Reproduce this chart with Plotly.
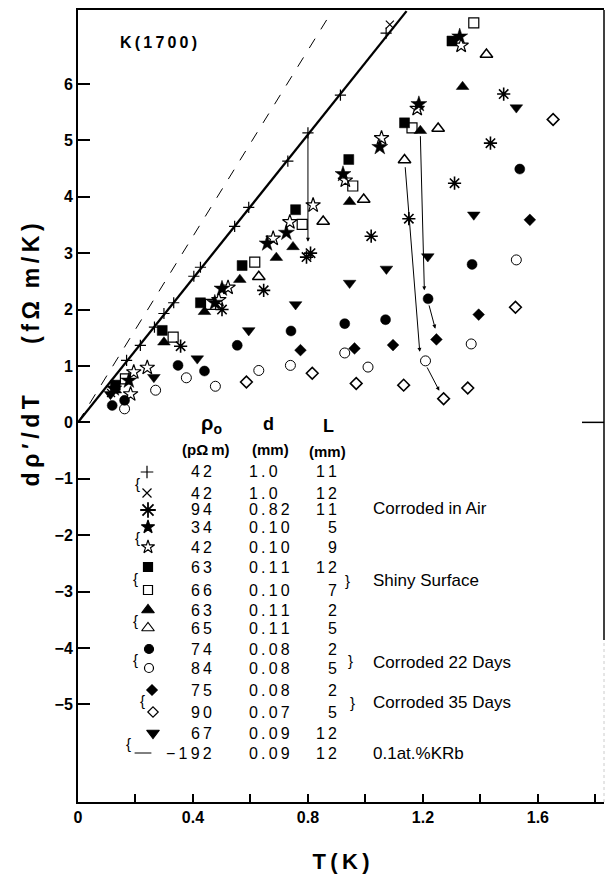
import plotly.graph_objects as go

# ---------------- data (T in K, d rho/dT in fOhm m/K) ----------------
plus_T = [0.169, 0.217, 0.266, 0.299, 0.333, 0.403, 0.426, 0.545, 0.594, 0.730, 0.800, 0.913, 1.072]
plus_v = [1.10, 1.365, 1.69, 1.93, 2.12, 2.59, 2.75, 3.475, 3.81, 4.63, 5.13, 5.80, 6.90]
cross_T = [0.115, 1.085]
cross_v = [0.52, 7.05]
ast_T = [0.357, 0.501, 0.646, 0.795, 0.809, 1.020, 1.151, 1.310, 1.435, 1.481]
ast_v = [1.35, 2.00, 2.34, 2.93, 3.00, 3.30, 3.61, 4.24, 4.95, 5.82]
starf_T = [0.125, 0.177, 0.476, 0.501, 0.658, 0.725, 0.922, 1.050, 1.186, 1.328]
starf_v = [0.60, 0.74, 2.12, 2.37, 3.17, 3.36, 4.40, 4.88, 5.64, 6.84]
staro_T = [0.183, 0.194, 0.241, 0.490, 0.522, 0.679, 0.737, 0.818, 0.930, 1.056, 1.180, 1.333]
staro_v = [0.50, 0.89, 0.97, 2.17, 2.39, 3.26, 3.55, 3.85, 4.29, 5.04, 5.56, 6.68]
sqf_T = [0.130, 0.293, 0.426, 0.571, 0.757, 0.942, 1.136, 1.301]
sqf_v = [0.66, 1.63, 2.12, 2.78, 3.77, 4.66, 5.31, 6.76]
sqo_T = [0.165, 0.331, 0.461, 0.615, 0.780, 0.956, 1.162, 1.377]
sqo_v = [0.77, 1.51, 2.09, 2.84, 3.51, 4.19, 5.22, 7.08]
trif_T = [0.130, 0.299, 0.440, 0.563, 0.690, 0.748, 0.945, 1.191, 1.338]
trif_v = [0.57, 1.42, 1.96, 2.53, 2.92, 3.11, 3.91, 5.17, 5.95]
trio_T = [0.629, 0.853, 0.994, 1.136, 1.253, 1.421]
trio_v = [2.58, 3.56, 3.95, 4.65, 5.21, 6.52]
cirf_T = [0.119, 0.162, 0.348, 0.440, 0.554, 0.741, 0.928, 1.070, 1.218, 1.371, 1.537]
cirf_v = [0.30, 0.39, 1.01, 0.91, 1.365, 1.62, 1.75, 1.82, 2.19, 2.80, 4.49]
ciro_T = [0.162, 0.270, 0.377, 0.478, 0.629, 0.739, 0.928, 1.009, 1.209, 1.368, 1.525]
ciro_v = [0.24, 0.57, 0.79, 0.64, 0.92, 1.01, 1.23, 0.98, 1.09, 1.39, 2.88]
diaf_T = [0.774, 0.962, 1.096, 1.247, 1.394, 1.572]
diaf_v = [1.28, 1.31, 1.37, 1.47, 1.91, 3.59]
diao_T = [0.586, 0.815, 0.968, 1.133, 1.272, 1.356, 1.522, 1.653]
diao_v = [0.715, 0.87, 0.69, 0.66, 0.42, 0.61, 2.04, 5.37]
trid_T = [0.113, 0.264, 0.415, 0.594, 0.757, 0.945, 1.073, 1.217, 1.377, 1.525]
trid_v = [0.50, 0.80, 1.13, 1.63, 2.09, 2.47, 2.72, 2.94, 3.68, 5.58]

# fitted lines
solid_T = [0.0, 1.143]
solid_v = [0.0, 7.29]
dash_T = [0.0, 0.884]
dash_v = [0.0, 7.29]

# arrows: (T_from, v_from, T_to, v_to)
arrows = [
    (0.800, 5.13, 0.800, 3.20),
    (1.191, 5.10, 1.205, 2.34),
    (1.220, 2.10, 1.243, 1.66),
    (1.138, 4.55, 1.189, 1.25),
    (1.212, 1.00, 1.257, 0.56),
]

# axis ticks
x_tickvals = [0, 0.4, 0.8, 1.2, 1.6]
x_ticktext = ['0', '0.4', '0.8', '1.2', '1.6']
y_tickvals = [-5, -4, -3, -2, -1, 0, 1, 2, 3, 4, 5, 6]
y_ticktext = ['\u22125', '\u22124', '\u22123', '\u22122', '\u22121', '0', '1', '2', '3', '4', '5', '6']

# legend table
leg_symbols = ['cross-thin-open', 'x-thin-open', 'asterisk-open', 'star', 'star-open',
               'square', 'square-open', 'triangle-up', 'triangle-up-open', 'circle',
               'circle-open', 'diamond', 'diamond-open', 'triangle-down', 'line-ew-open']
leg_rho = ['42', '42', '94', '34', '42', '63', '66', '63', '65', '74', '84', '75', '90', '67', '\u2212192']
leg_d = ['1.0', '1.0', '0.82', '0.10', '0.10', '0.11', '0.10', '0.11', '0.11', '0.08', '0.08',
         '0.08', '0.07', '0.09', '0.09']
leg_L = ['11', '12', '11', '5', '9', '12', '7', '2', '5', '2', '5', '2', '5', '12', '12']
leg_rowY = [472, 493, 510, 527, 547, 567, 590, 610, 628, 649, 668, 690, 712, 733, 753]
leg_symX = [147, 147, 148, 148, 148, 148, 148, 148, 148, 149, 149, 152, 153, 153, 143]
groups = [('Corroded in Air', 509), ('Shiny Surface', 580), ('Corroded 22 Days', 662),
          ('Corroded 35 Days', 702), ('0.1at.%KRb', 753)]

# ---------------- layout geometry ----------------
W, H = 608, 876
L_, R_, T_, B_ = 78, 4, 10, 74
XR = [0.0, 1.83]
YR = [-6.73, 7.31]
PW = W - L_ - R_
PH = H - T_ - B_

def px2x(X):
    return XR[0] + (X - L_) / PW * (XR[1] - XR[0])

def py2y(Y):
    return YR[1] - (Y - T_) / PH * (YR[1] - YR[0])

def pxp(X):
    return (X - L_) / PW

def pyp(Y):
    return (H - B_ - Y) / PH

FONT = 'Liberation Sans, Arial, sans-serif'
BLK = 'black'
TS = '\u2009'  # thin space for the letter-spaced look

def spaced(s):
    return TS.join(list(s))

fig = go.Figure()

# lines
fig.add_trace(go.Scatter(x=solid_T, y=solid_v, mode='lines',
                         line=dict(color=BLK, width=2.3), hoverinfo='skip'))
fig.add_trace(go.Scatter(x=dash_T, y=dash_v, mode='lines',
                         line=dict(color=BLK, width=1, dash='11px,11px'), hoverinfo='skip'))

def pts(T, v, symbol, size, lw=1.5):
    fig.add_trace(go.Scatter(x=T, y=v, mode='markers',
                             marker=dict(symbol=symbol, size=size, color=BLK,
                                         line=dict(color=BLK, width=lw)),
                             hoverinfo='skip'))

pts(plus_T, plus_v, 'cross-thin-open', 8, 1.2)
pts(cross_T, cross_v, 'x-thin-open', 8, 1.2)
pts(ast_T, ast_v, 'asterisk-open', 11, 1.6)
pts(starf_T, starf_v, 'star', 12, 0.5)
pts(staro_T, staro_v, 'star-open', 11, 1.2)
pts(sqf_T, sqf_v, 'square', 10, 0.5)
pts(sqo_T, sqo_v, 'square-open', 10, 1.2)
pts(trif_T, trif_v, 'triangle-up', 11, 0.5)
pts(trio_T, trio_v, 'triangle-up-open', 11, 1.5)
pts(cirf_T, cirf_v, 'circle', 10, 0.5)
pts(ciro_T, ciro_v, 'circle-open', 10, 1.0)
pts(diaf_T, diaf_v, 'diamond', 9, 0.5)
pts(diao_T, diao_v, 'diamond-open', 9, 1.6)
pts(trid_T, trid_v, 'triangle-down', 11, 0.5)

# legend symbols (positions in pixels converted to data coords)
for sym, X, Y in zip(leg_symbols, leg_symX, leg_rowY):
    sz = 11
    lw = 1.2
    if sym in ('cross-thin-open', 'x-thin-open'):
        sz = 9
    if sym == 'asterisk-open':
        sz, lw = 13, 1.8
    if sym == 'line-ew-open':
        sz, lw = 12, 1.0
    if sym in ('square', 'square-open', 'circle', 'circle-open'):
        sz = 9
    if sym in ('diamond', 'diamond-open'):
        sz = 8
    if sym in ('star', 'star-open'):
        sz = 10
    fig.add_trace(go.Scatter(x=[px2x(X)], y=[py2y(Y)], mode='markers', cliponaxis=False,
                             marker=dict(symbol=sym, size=sz, color=BLK,
                                         line=dict(color=BLK, width=lw)),
                             hoverinfo='skip'))

ann = []
# arrows
for (t0, v0, t1, v1) in arrows:
    ann.append(dict(x=t1, y=v1, ax=t0, ay=v0, xref='x', yref='y', axref='x', ayref='y',
                    text='', showarrow=True, arrowhead=2, arrowsize=0.8, arrowwidth=1,
                    arrowcolor=BLK))

def txt(s, X, Y, size=16, anchor='center', bold=False, angle=0):
    ann.append(dict(x=pxp(X), y=pyp(Y), xref='paper', yref='paper',
                    text=('<b>%s</b>' % s) if bold else s, showarrow=False,
                    xanchor=anchor, yanchor='middle', textangle=angle,
                    font=dict(family=FONT, size=size, color=BLK)))

txt(spaced('K(1700)'), 118, 43, 16, 'left', True)
# table headers
txt('\u03c1<sub>o</sub>', 211, 424, 20, 'center', True)
txt('d', 268, 424, 18, 'center', True)
txt('L', 328, 426, 18, 'center', True)
txt('(p\u03a9' + TS + 'm)', 206, 449, 15, 'center', True)
txt('(mm)', 270, 449, 15, 'center', True)
txt('(mm)', 327, 451, 15, 'center', True)
for r, dv, lv, Y in zip(leg_rho, leg_d, leg_L, leg_rowY):
    txt(spaced(r), 214, Y, 16, 'right')
    txt(spaced(dv), 247, Y, 16, 'left')
    txt(spaced(lv), 339, Y, 16, 'right')
# braces
for X, Y in [(137, 483), (137, 537), (135, 578), (135, 620), (135, 659), (142, 700), (128, 743)]:
    txt('{', X, Y, 15, 'center')
for X, Y in [(347, 580), (350, 660), (352, 702)]:
    txt('}', X, Y, 15, 'center')
for s, Y in groups:
    txt(s, 371, Y, 17, 'left')

# axis titles (as real axis titles)
xtitle = '<b>' + spaced('T(K)') + '</b>'
ytitle = ('&#160;' * 16 + '<b>' + spaced('d\u03c1\u2032/dT') + '&#160;' * 8 +
          spaced('(f\u03a9') + '&#160;&#160;' + spaced('m/K)') + '</b>')

shapes = [
    # right frame
    dict(type='line', xref='paper', yref='paper', x0=1, x1=1, y0=pyp(640), y1=1,
         line=dict(color=BLK, width=1.5)),
    dict(type='line', xref='paper', yref='paper', x0=1, x1=1, y0=0, y1=pyp(640),
         line=dict(color='#cccccc', width=1, dash='dot')),
    # right-hand tick at zero
    dict(type='line', xref='paper', yref='y', x0=pxp(582), x1=1, y0=0, y1=0,
         line=dict(color=BLK, width=1.5)),
]

tickfont = dict(family=FONT, size=16, color=BLK, weight='bold')

fig.update_layout(
    width=W, height=H, margin=dict(l=L_, r=R_, t=T_, b=B_, autoexpand=False),
    paper_bgcolor='white', plot_bgcolor='white', showlegend=False,
    annotations=ann, shapes=shapes,
    font=dict(family=FONT, color=BLK),
    xaxis=dict(range=XR, showgrid=False, zeroline=False, showline=True, linecolor=BLK,
               linewidth=2, mirror=True, ticks='inside', ticklen=8, tickwidth=1.5,
               tickcolor=BLK, tickvals=x_tickvals, ticktext=x_ticktext,
               minor=dict(ticks='inside', ticklen=8, tickwidth=1.5, tickcolor=BLK,
                          tick0=0, dtick=0.2, showgrid=False),
               tickfont=tickfont, automargin=False,
               title=dict(text=xtitle, standoff=28,
                          font=dict(family=FONT, size=22, color=BLK))),
    yaxis=dict(range=YR, showgrid=False, zeroline=False, showline=True, linecolor=BLK,
               linewidth=2, mirror=False, ticks='inside', ticklen=12, tickwidth=1.5,
               tickcolor=BLK, tickvals=y_tickvals, ticktext=y_ticktext,
               tickfont=tickfont, automargin=False,
               title=dict(text=ytitle, standoff=8,
                          font=dict(family=FONT, size=23, color=BLK))),
)

fig.write_html('out.html')
